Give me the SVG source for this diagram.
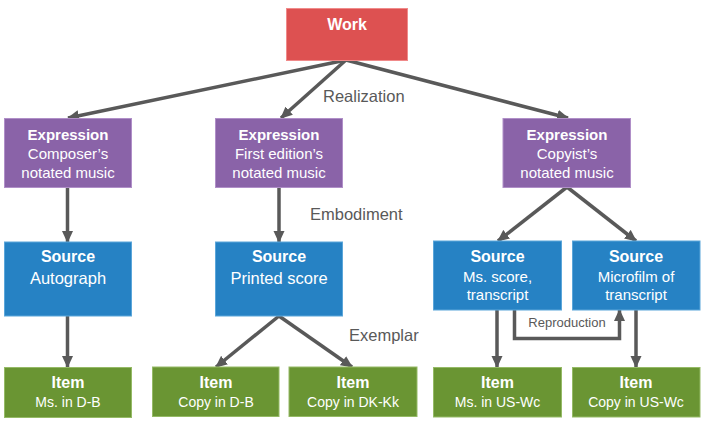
<svg xmlns="http://www.w3.org/2000/svg" width="707" height="425" viewBox="0 0 707 425">
  <defs>
    <marker id="arr" markerUnits="userSpaceOnUse" markerWidth="12" markerHeight="12" viewBox="0 0 12 12" refX="11" refY="6" orient="auto">
      <path d="M0,0.5 L12,6 L0,11.5 z" fill="#595959"/>
    </marker>
    <style>
      .work{fill:#DD5151;stroke:#F08A8A;stroke-width:1}
      .expr{fill:#8A63A8;stroke:#B08FC8;stroke-width:1}
      .src{fill:#2682C4;stroke:#5BA6DA;stroke-width:1}
      .item{fill:#6A9533;stroke:#95BA66;stroke-width:1}
      text{font-family:"Liberation Sans",Arial,sans-serif;text-anchor:middle;fill:#FFFFFF}
      .h{font-weight:bold;font-size:15px}
      .t{font-size:15px}
      .lbl{fill:#595959;font-size:16.5px;text-anchor:start}
      .lbls{fill:#595959;font-size:13px}
      .c{fill:none;stroke:#595959;stroke-width:3.5}
    </style>
  </defs>
  <rect width="707" height="425" fill="#FFFFFF"/>

  <g id="connectors">
    <line class="c" x1="346" y1="60" x2="68" y2="118" marker-end="url(#arr)"/>
    <line class="c" x1="346" y1="60" x2="281" y2="118" marker-end="url(#arr)"/>
    <line class="c" x1="346" y1="60" x2="568" y2="118" marker-end="url(#arr)"/>
    <line class="c" x1="67.5" y1="187" x2="67.5" y2="242" marker-end="url(#arr)"/>
    <line class="c" x1="279" y1="187" x2="279" y2="242" marker-end="url(#arr)"/>
    <line class="c" x1="567" y1="187" x2="498" y2="241" marker-end="url(#arr)"/>
    <line class="c" x1="567" y1="187" x2="636" y2="241" marker-end="url(#arr)"/>
    <line class="c" x1="67.5" y1="316" x2="67.5" y2="367" marker-end="url(#arr)"/>
    <line class="c" x1="279" y1="316" x2="216" y2="367" marker-end="url(#arr)"/>
    <line class="c" x1="279" y1="316" x2="352" y2="367" marker-end="url(#arr)"/>
    <line class="c" x1="497" y1="310" x2="497" y2="367" marker-end="url(#arr)"/>
    <line class="c" x1="636" y1="310" x2="636" y2="367" marker-end="url(#arr)"/>
    <path class="c" d="M514.5,310 V338.5 H619.5 V310" marker-end="url(#arr)"/>
    <text class="lbl" x="323" y="102">Realization</text>
    <text class="lbl" x="310" y="220">Embodiment</text>
    <text class="lbl" x="349" y="341">Exemplar</text>
    <text class="lbls" x="567" y="327">Reproduction</text>
  </g>

  <g id="work">
    <rect class="work" x="286.5" y="8.5" width="121" height="52"/>
    <text class="h" x="347" y="30" style="font-size:16px">Work</text>
  </g>

  <g id="expr1">
    <rect class="expr" x="4.5" y="118.5" width="127" height="69"/>
    <text class="h" x="68" y="140">Expression</text>
    <text class="t" x="68" y="159">Composer’s</text>
    <text class="t" x="68" y="178">notated music</text>
  </g>
  <g id="expr2">
    <rect class="expr" x="215.5" y="118.5" width="127" height="69"/>
    <text class="h" x="279" y="140">Expression</text>
    <text class="t" x="279" y="159">First edition’s</text>
    <text class="t" x="279" y="178">notated music</text>
  </g>
  <g id="expr3">
    <rect class="expr" x="503" y="118.5" width="127.5" height="69"/>
    <text class="h" x="567" y="140">Expression</text>
    <text class="t" x="567" y="159">Copyist’s</text>
    <text class="t" x="567" y="178">notated music</text>
  </g>

  <g id="src1">
    <rect class="src" x="4.5" y="242" width="127" height="74"/>
    <text class="h" x="68" y="262" style="font-size:16px">Source</text>
    <text class="t" x="68" y="284" style="font-size:16.5px">Autograph</text>
  </g>
  <g id="src2">
    <rect class="src" x="215.5" y="242" width="127" height="74"/>
    <text class="h" x="279" y="262" style="font-size:16px">Source</text>
    <text class="t" x="279" y="284" style="font-size:16.5px">Printed score</text>
  </g>
  <g id="src3">
    <rect class="src" x="433.5" y="241" width="128" height="69"/>
    <text class="h" x="497.5" y="262" style="font-size:16px">Source</text>
    <text class="t" x="497.5" y="281.5">Ms. score,</text>
    <text class="t" x="497.5" y="300">transcript</text>
  </g>
  <g id="src4">
    <rect class="src" x="572.5" y="241" width="127.5" height="69"/>
    <text class="h" x="636" y="262" style="font-size:16px">Source</text>
    <text class="t" x="636" y="281.5">Microfilm of</text>
    <text class="t" x="636" y="300">transcript</text>
  </g>

  <g id="item1">
    <rect class="item" x="4.5" y="367.5" width="127" height="50"/>
    <text class="h" x="68" y="388" style="font-size:16px">Item</text>
    <text class="t" x="68" y="407" style="font-size:14px">Ms. in D-B</text>
  </g>
  <g id="item2">
    <rect class="item" x="152.5" y="367" width="126.5" height="49.5"/>
    <text class="h" x="216" y="388" style="font-size:16px">Item</text>
    <text class="t" x="216" y="407" style="font-size:14px">Copy in D-B</text>
  </g>
  <g id="item3">
    <rect class="item" x="289" y="367" width="128" height="49.5"/>
    <text class="h" x="353" y="388" style="font-size:16px">Item</text>
    <text class="t" x="353" y="407" style="font-size:14px">Copy in DK-Kk</text>
  </g>
  <g id="item4">
    <rect class="item" x="433.5" y="367.5" width="128" height="49.5"/>
    <text class="h" x="497.5" y="388" style="font-size:16px">Item</text>
    <text class="t" x="497.5" y="407" style="font-size:14px">Ms. in US-Wc</text>
  </g>
  <g id="item5">
    <rect class="item" x="572.5" y="367.5" width="127.5" height="49.5"/>
    <text class="h" x="636" y="388" style="font-size:16px">Item</text>
    <text class="t" x="636" y="407" style="font-size:14px">Copy in US-Wc</text>
  </g>
</svg>
